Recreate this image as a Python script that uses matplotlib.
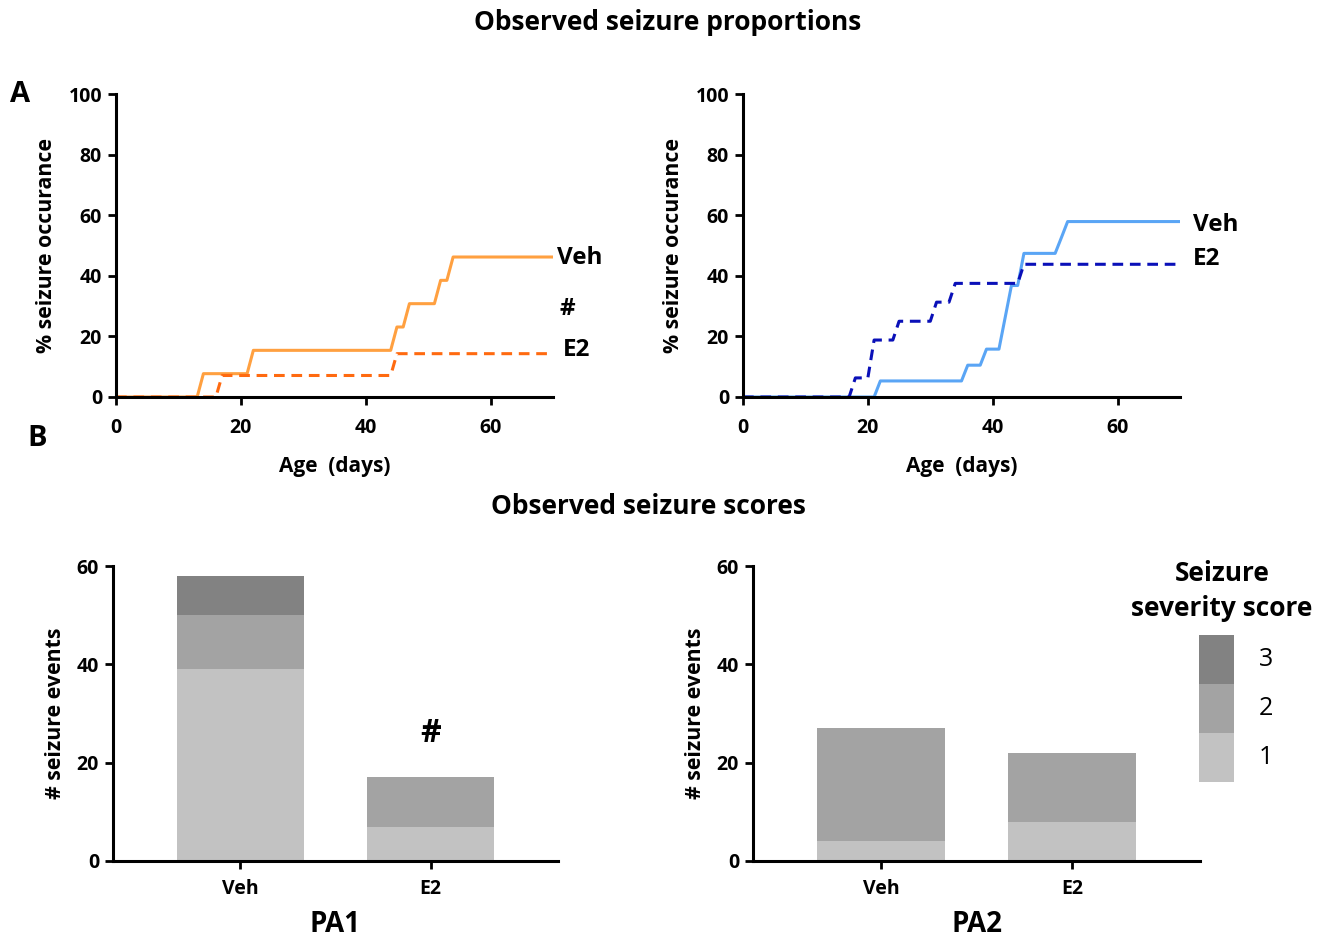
import numpy as np
import matplotlib.pyplot as plt

plt.rcParams['font.family'] = ['Open Sans', 'DejaVu Sans']
plt.rcParams['font.weight'] = 'bold'

# cumulative % of animals with a seizure, by age (days)
pa1_veh_days = [0, 13, 14, 21, 22, 44, 45, 46, 47, 51, 52, 53, 54, 70]
pa1_veh_pct = [0, 0, 7.7, 7.7, 15.4, 15.4, 23.1, 23.1, 30.8, 30.8, 38.5, 38.5, 46.2, 46.2]
pa1_e2_days = [0, 16, 17, 44, 45, 70]
pa1_e2_pct = [0, 0, 7.1, 7.1, 14.3, 14.3]

pa2_veh_days = [0, 21, 22, 35, 36, 38, 39, 41, 42, 43, 44, 45, 50, 51, 52, 70]
pa2_veh_pct = [0, 0, 5.3, 5.3, 10.5, 10.5, 15.8, 15.8, 26.3, 36.8, 36.8, 47.4, 47.4, 52.6, 57.9, 57.9]
pa2_e2_days = [0, 17, 18, 20, 21, 24, 25, 30, 31, 33, 34, 44, 45, 70]
pa2_e2_pct = [0, 0, 6.3, 6.3, 18.8, 18.8, 25, 25, 31.3, 31.3, 37.5, 37.5, 43.8, 43.8]

# seizure events by severity score
groups = ['Veh', 'E2']
pa1_score1 = [39, 7]
pa1_score2 = [11, 10]
pa1_score3 = [8, 0]
pa2_score1 = [4, 8]
pa2_score2 = [23, 14]
pa2_score3 = [0, 0]

c1, c2, c3 = '#c2c2c2', '#a3a3a3', '#828282'

fig = plt.figure(figsize=(13.31, 9.39), dpi=100)
W, H = 1331, 939


def ax_at(x0, x1, ytop, ybot):
    return fig.add_axes([x0 / W, 1 - ybot / H, (x1 - x0) / W, (ybot - ytop) / H])


def style(ax, fs=14, xpad=8):
    for s in ['top', 'right']:
        ax.spines[s].set_visible(False)
    for s in ['left', 'bottom']:
        ax.spines[s].set_linewidth(2.2)
    ax.tick_params(width=2, length=6, labelsize=fs, pad=4)
    ax.tick_params(axis='x', pad=xpad)
    for lab in ax.get_xticklabels() + ax.get_yticklabels():
        lab.set_fontweight('bold')


# ---- A: seizure proportions ----
axL = ax_at(116, 553, 94, 397)
axR = ax_at(743, 1180, 94, 397)
axL.plot(pa1_veh_days, pa1_veh_pct, color='#ffa040', lw=2.2)
axL.plot(pa1_e2_days, pa1_e2_pct, color='#ff6a10', lw=2.2, ls=(0, (3.5, 2.2)))
axR.plot(pa2_veh_days, pa2_veh_pct, color='#5aa5f5', lw=2.2)
axR.plot(pa2_e2_days, pa2_e2_pct, color='#0a10b8', lw=2.2, ls=(0, (3.5, 2.2)))

for ax in (axL, axR):
    ax.set_xlim(0, 70)
    ax.set_ylim(0, 100)
    ax.set_xticks([0, 20, 40, 60])
    ax.set_yticks([0, 20, 40, 60, 80, 100])
    ax.set_xlabel('Age  (days)', fontsize=15, fontweight='bold', labelpad=13)
    ax.set_ylabel('% seizure occurance', fontsize=15.3, fontweight='bold', labelpad=8)
    style(ax, 14, xpad=9)

axL.text(70.6, 45.9, 'Veh', fontsize=17.5, fontweight='bold', va='center')
axL.text(71.0, 29, '#', fontsize=17.5, fontweight='bold', va='center')
axL.text(71.6, 15.5, 'E2', fontsize=17.5, fontweight='bold', va='center')
axR.text(72.1, 56.8, 'Veh', fontsize=17.5, fontweight='bold', va='center')
axR.text(72.1, 45.5, 'E2', fontsize=17.5, fontweight='bold', va='center')

# ---- B: seizure scores ----
bL = ax_at(113, 558, 566, 861)
bR = ax_at(753, 1200, 566, 861)
x = np.arange(len(groups))
for ax, s1, s2, s3 in ((bL, pa1_score1, pa1_score2, pa1_score3),
                       (bR, pa2_score1, pa2_score2, pa2_score3)):
    b2 = np.array(s1)
    b3 = b2 + np.array(s2)
    ax.bar(x, s1, width=0.67, color=c1)
    ax.bar(x, s2, width=0.67, bottom=b2, color=c2)
    ax.bar(x, s3, width=0.67, bottom=b3, color=c3)
    ax.set_xlim(-0.67, 1.67)
    ax.set_ylim(0, 60)
    ax.set_yticks([0, 20, 40, 60])
    ax.set_xticks(x)
    ax.set_xticklabels(groups)
    ax.set_ylabel('# seizure events', fontsize=15.3, fontweight='bold', labelpad=8)
    style(ax, 14, xpad=7)

bL.set_xlabel('PA1', fontsize=20, fontweight='bold', labelpad=8)
bR.set_xlabel('PA2', fontsize=20, fontweight='bold', labelpad=8)
bL.text(1, 26, '#', fontsize=23, fontweight='bold', ha='center', va='center')

# legend drawn as a small stack of swatches
lg = ax_at(1199, 1234, 635, 782)
lg.bar([0], [1], bottom=2, width=1, color=c3)
lg.bar([0], [1], bottom=1, width=1, color=c2)
lg.bar([0], [1], bottom=0, width=1, color=c1)
lg.set_xlim(-0.5, 0.5)
lg.set_ylim(0, 3)
lg.axis('off')
for i, lab in enumerate(['1', '2', '3']):
    lg.text(1.2, i + 0.5, lab, fontsize=18, fontweight='normal', va='center', clip_on=False)
fig.text(1222 / W, 1 - 591 / H, 'Seizure\nseverity score', fontsize=19, fontweight='bold',
         ha='center', va='center', linespacing=1.35)

fig.text(668 / W, 1 - 22 / H, 'Observed seizure proportions', fontsize=19, fontweight='bold',
         ha='center', va='center')
fig.text(648 / W, 1 - 506 / H, 'Observed seizure scores', fontsize=19, fontweight='bold',
         ha='center', va='center')
fig.text(20 / W, 1 - 95 / H, 'A', fontsize=21, fontweight='bold', ha='center', va='center')
fig.text(37 / W, 1 - 438 / H, 'B', fontsize=21, fontweight='bold', ha='center', va='center')

fig.savefig('out.png', dpi=100)
